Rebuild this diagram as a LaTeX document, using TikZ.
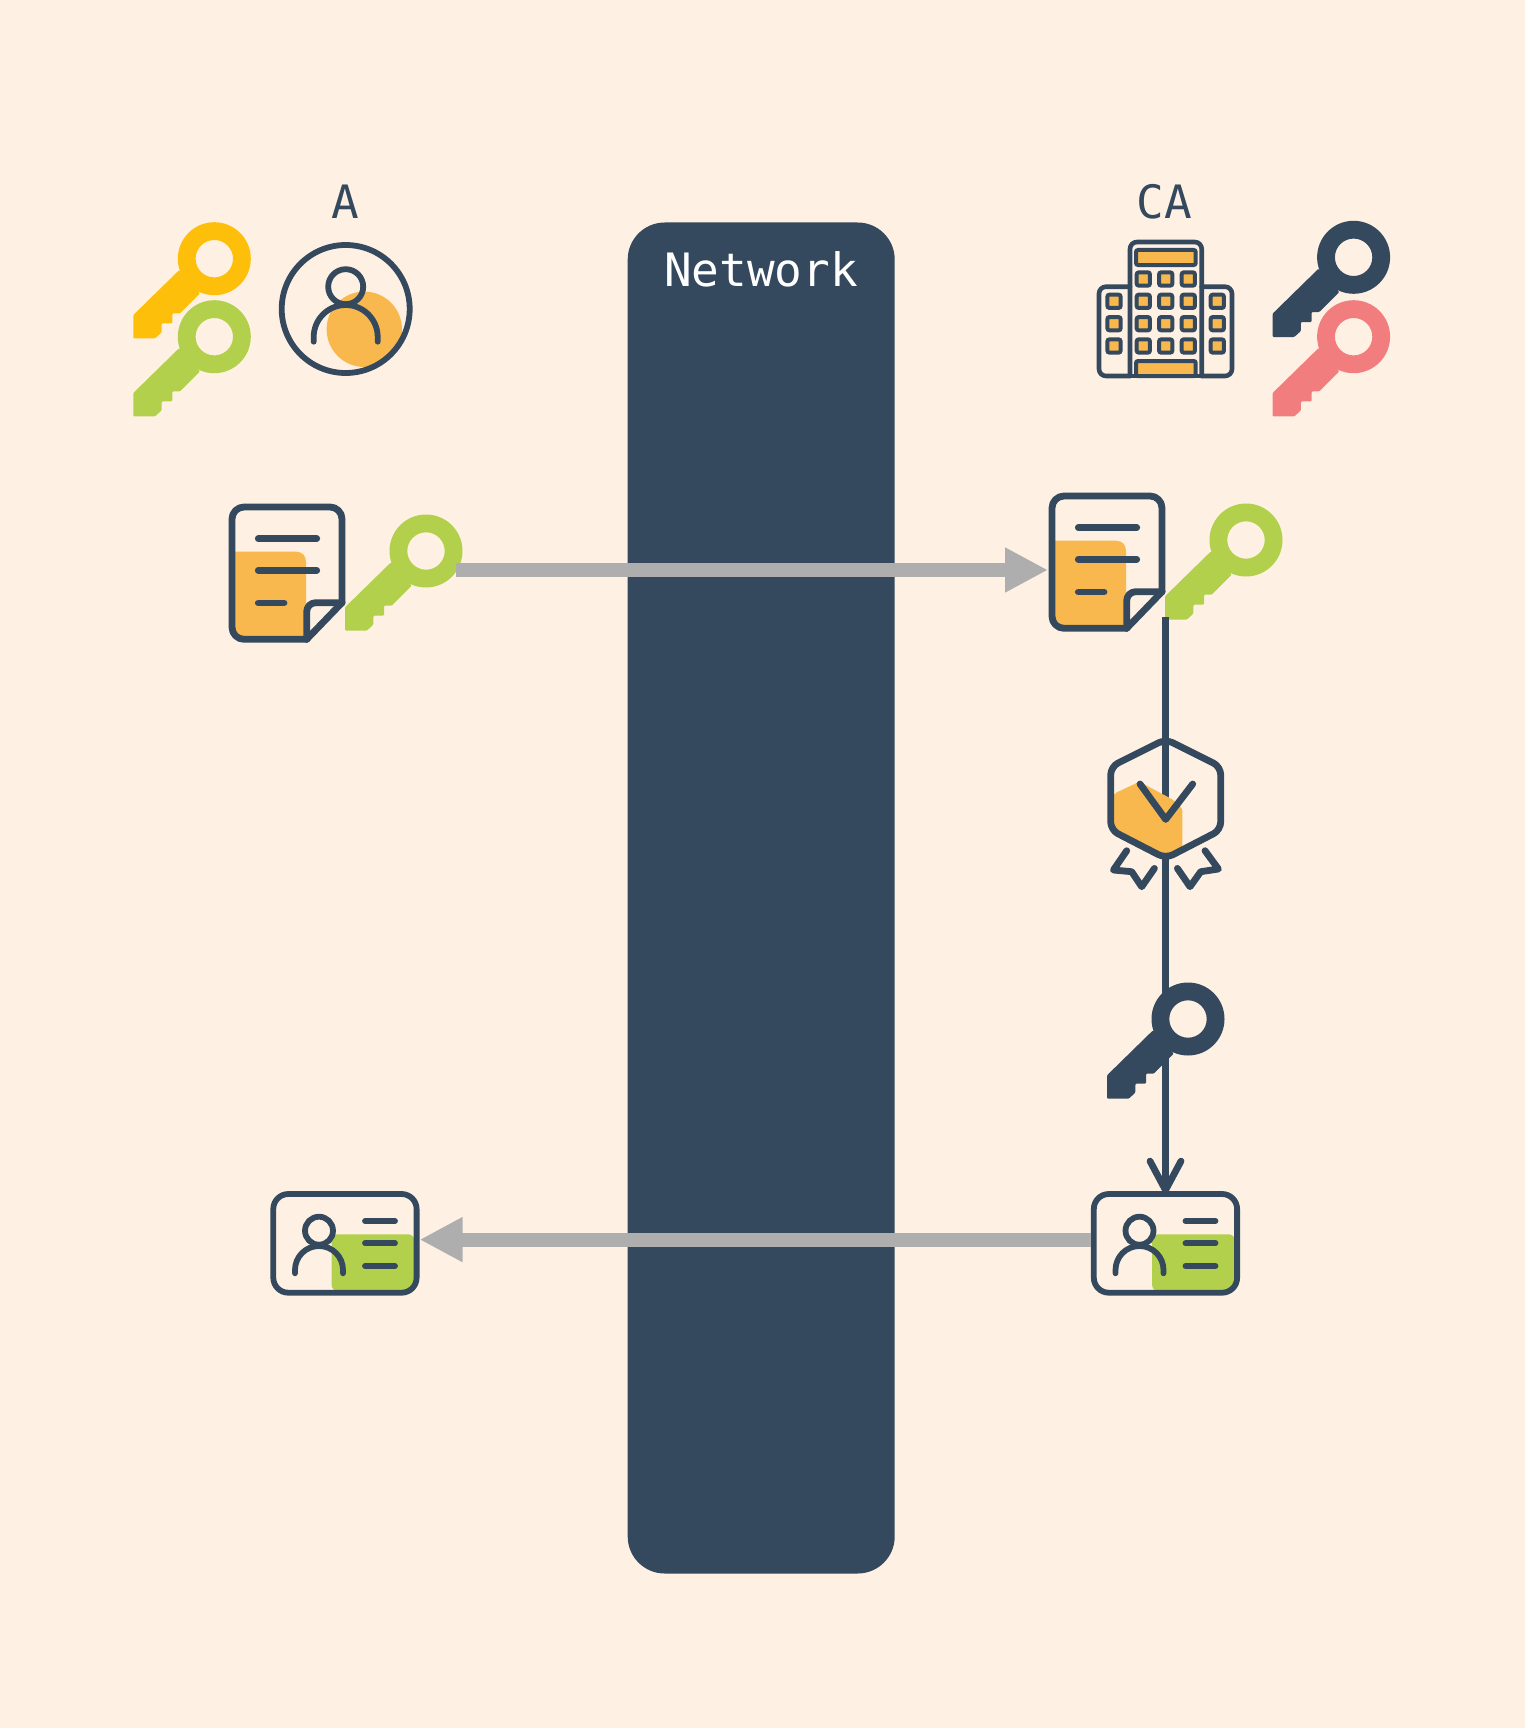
\documentclass[tikz,border=0pt]{standalone}
\usepackage{fontspec}
\newfontfamily\monolabel{DejaVu Sans Mono}
\definecolor{mybg}{HTML}{FEF1E3}
\definecolor{mynavy}{HTML}{34495E}
\definecolor{myorange}{HTML}{F8B84E}
\definecolor{myyellow}{HTML}{FEBF0A}
\definecolor{mygreen}{HTML}{B2D04B}
\definecolor{myred}{HTML}{F27D7E}
\definecolor{mygray}{HTML}{AEAEAE}
\usetikzlibrary{arrows.meta,positioning}

\tikzset{
    iconline/.style={draw=mynavy,line width=6.8pt,line cap=round,line join=round},
    thinline/.style={draw=mynavy,line width=5.8pt,line cap=round,line join=round},
    winbox/.style={draw=mynavy,fill=myorange,line width=4pt,rounded corners=2pt},
    pics/keyicon/.style={code={
        \fill[#1,rounded corners=1pt] (-35,11.3) -- (-81,56.3) -- (-81,79.7) -- (-59.3,79.7)
            -- (-52.7,73.7) -- (-52.7,64.7) -- (-42,64.7) -- (-42,54.7) -- (-34.3,54.7)
            -- (-14.3,34.7) -- cycle;
        \fill[#1,even odd rule] (0,0) circle[radius=36.5] (0,0) circle[radius=18.7];
        \coordinate (-out) at (29.6,19);
        \coordinate (-tail) at (-80.5,77);
    }},
    pics/personicon/.style={code={
        \fill[myorange] (18.6,20.3) circle[radius=37.7];
        \draw[thinline] (0,0) circle[radius=64];
        \draw[thinline] (0,-22.3) circle[radius=17.5];
        \draw[thinline] (-32,32.7) -- (-32,28) .. controls (-32,10.3) and (-17.7,-4) .. (0,-4)
            .. controls (17.7,-4) and (32,10.3) .. (32,28) -- (32,32.7);
    }},
    pics/buildingicon/.style={code={
        \draw[thinline,line width=4.6pt,rounded corners=7pt] (0,134) -- (-31,134) -- (-31,44.7) -- (0,44.7);
        \draw[thinline,line width=4.6pt,rounded corners=7pt] (71.7,134) -- (102,134) -- (102,44.7) -- (71.7,44.7);
        \draw[thinline,line width=4.6pt,rounded corners=7pt] (0,134) -- (0,0) -- (71.7,0) -- (71.7,134);
        \draw[thinline,line width=4.6pt] (0,134) -- (71.7,134);
        \draw[winbox] (6,8) rectangle (65.7,23);
        \draw[winbox] (6,119) rectangle (65.7,134);
        \foreach \px in {13.3,35.7,58.3}
            \foreach \py in {37,59.3,81.7,104}
                \draw[winbox] (\px-6.6,\py-6.6) rectangle (\px+6.6,\py+6.6);
        \foreach \px in {-16,87.3}
            \foreach \py in {59.3,81.7,104}
                \draw[winbox] (\px-6.6,\py-6.6) rectangle (\px+6.6,\py+6.6);
    }},
    pics/docicon/.style={code={
        \fill[myorange] (0,44.7) -- (64,44.7) .. controls (70,44.7) and (74,48.7) .. (74,54.7)
            -- (74,132) -- (12,132) -- (0,120) -- cycle;
        \draw[iconline] (74.7,132.3) -- (110,95.7);
        \draw[iconline,rounded corners=12pt] (110,95.7) -- (110,0) -- (0,0) -- (0,132.3) -- (74.7,132.3);
        \draw[iconline,rounded corners=9pt] (74.7,132.3) -- (74.7,95.7) -- (110,95.7);
        \draw[iconline] (26.3,31.7) -- (84.7,31.7);
        \draw[iconline] (26.3,63.3) -- (84.7,63.3);
        \draw[iconline] (26.3,96) -- (52,96);
        \coordinate (-in) at (-4,74);
    }},
    pics/badgeicon/.style={code={
        \fill[myorange,rounded corners=3pt] (-52.3,-4.7) -- (-26.3,-17) -- (7.7,1.3) -- (16.7,9.7)
            -- (16.7,51.3) -- (0,58) -- (-52.3,29.7) -- cycle;
        \draw[iconline,rounded corners=8pt] (0,-59.5) -- (55,-32) -- (55,31.3) -- (0,59.7)
            -- (-55,31.3) -- (-55,-32) -- cycle;
        \draw[iconline] (-25.7,-14.7) -- (0,20.7) -- (27,-14.7);
        \draw[iconline] (-39,52) -- (-52.3,71.3) -- (-34,73) -- (-24,88) -- (-11.3,69.7);
        \draw[iconline] (39.3,52) -- (52.7,70.3) -- (35,73) -- (24.3,88) -- (11.7,69.7);
    }},
    pics/cardicon/.style={code={
        \fill[mygreen,rounded corners=6pt] (58.3,97) -- (58.3,40.3) -- (141,40.3)
            [rounded corners=13pt] -- (141,97) [rounded corners=6pt] -- cycle;
        \draw[thinline,rounded corners=15pt] (0,0) rectangle (143.3,98.7);
        \draw[thinline] (45.7,36.7) circle[radius=14];
        \draw[thinline] (21.7,79.3) -- (21.7,76) .. controls (21.7,62.7) and (32.4,52) .. (45.7,52)
            .. controls (59,52) and (69.7,62.7) .. (69.7,76) -- (69.7,79.3);
        \draw[thinline] (91.7,27) -- (121.7,27);
        \draw[thinline] (91.7,49.3) -- (121.7,49.3);
        \draw[thinline] (91.7,72) -- (121.7,72);
        \coordinate (-west) at (-3,45.6);
        \coordinate (-east) at (146.3,45.6);
        \coordinate (-north) at (71.7,-0.5);
    }},
    grayflow/.style={draw=mygray,line width=14pt,-{Triangle[length=43pt,width=42pt]}},
    navyflow/.style={draw=mynavy,line width=6.8pt,-{Straight Barb[length=29pt,width=31pt,round]}}
}

\begin{document}
\begin{tikzpicture}[x=1pt,y=-1pt,
    every node/.style={inner sep=0pt,font=\monolabel\fontsize{46}{46}\selectfont},
    node distance=819pt
    ]

    \fill[mybg] (0,0) rectangle (1525,1728);
    \useasboundingbox (0,0) rectangle (1525,1728);

    % the network column
    \node (network) at (761.2,898) [fill=mynavy,rounded corners=37pt,minimum width=267pt,minimum height=1351pt] {};
    \node (netlabel) at (761,269) [text=white] {Network};

    % the parties
    \node (labelA) at (345,202) [text=mynavy] {A};
    \node (labelCA) [text=mynavy,right of=labelA] {CA};

    \pic (yellowkey) at (214.3,258.7) {keyicon=myyellow};
    \pic (greenkey) at (214.3,336.7) {keyicon=mygreen};
    \pic (person) at (345.7,309) {personicon};
    \pic (building) at (1130,242) {buildingicon};
    \pic (navykey) at (1353.6,257.3) {keyicon=mynavy};
    \pic (redkey) at (1353.6,336.7) {keyicon=myred};

    % the request
    \pic (docA) at (232,507) {docicon};
    \pic (keyA) at (426,551) {keyicon=mygreen};
    \pic (docCA) at (1052,496) {docicon};
    \pic (keyCA) at (1246,540) {keyicon=mygreen};

    % the certificates
    \pic (cardA) at (273.3,1194) {cardicon};
    \pic (cardCA) at (1093.8,1194) {cardicon};

    % the edges
    \draw[grayflow] (keyA-out) -- (docCA-in);
    \draw[grayflow] (cardCA-west) -- (cardA-east);
    \draw[navyflow] (keyCA-tail) -- (cardCA-north);

    % the signing
    \pic (badge) at (1165.7,798.7) {badgeicon};
    \pic (signkey) at (1188,1019) {keyicon=mynavy};
\end{tikzpicture}
\end{document}
